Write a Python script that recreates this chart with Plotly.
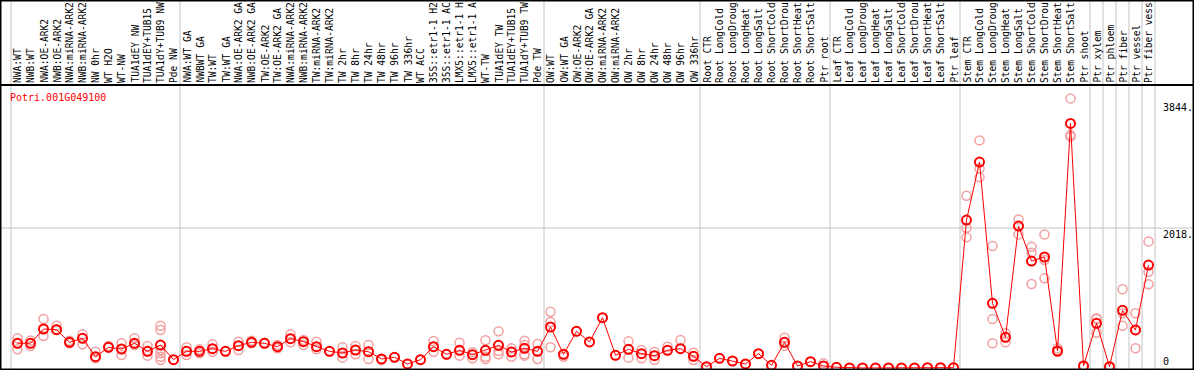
import plotly.graph_objects as go

gene = "Potri.001G049100"

labels = [
    "NWA:WT", "NWB:WT", "NWA:OE-ARK2", "NWB:OE-ARK2", "NWA:miRNA-ARK2", "NWB:miRNA-ARK2",
    "NW 0hr", "WT H2O", "WT-NW", "TUA1dEY NW", "TUA1dEY+TUB15", "TUA1dY+TUB9 NW", "Pde NW",
    "NWA:WT GA", "NWBWT GA", "TW:WT", "TW:WT GA", "NWA:OE-ARK2 GA", "NWB:OE-ARK2 GA",
    "TW:OE-ARK2", "TW:OE-ARK2 GA", "NWA:miRNA-ARK2", "NWB:miRNA-ARK2", "TW:miRNA-ARK2",
    "TW:miRNA-ARK2", "TW 2hr", "TW 8hr", "TW 24hr", "TW 48hr", "TW 96hr", "TW 336hr", "WT ACC",
    "35S::etr1-1 H2", "35S::etr1-1 AC", "LMX5::etr1-1 H", "LMX5::etr1-1 A", "WT-TW",
    "TUA1dEY TW", "TUA1dEY+TUB15", "TUA1dY+TUB9 TW", "Pde TW",
    "OW:WT", "OW:WT GA", "OW:OE-ARK2", "OW:OE-ARK2 GA", "OW:miRNA-ARK2", "OW:miRNA-ARK2",
    "OW 2hr", "OW 8hr", "OW 24hr", "OW 48hr", "OW 96hr", "OW 336hr",
    "Root CTR", "Root LongCold", "Root LongDroug", "Root LongHeat", "Root LongSalt",
    "Root ShortCold", "Root ShortDrou", "Root ShortHeat", "Root ShortSalt", "Ptr root",
    "Leaf CTR", "Leaf LongCold", "Leaf LongDroug", "Leaf LongHeat", "Leaf LongSalt",
    "Leaf ShortCold", "Leaf ShortDrou", "Leaf ShortHeat", "Leaf ShortSalt", "Ptr leaf",
    "Stem CTR", "Stem LongCold", "Stem LongDroug", "Stem LongHeat", "Stem LongSalt",
    "Stem ShortCold", "Stem ShortDrou", "Stem ShortHeat", "Stem ShortSalt", "Ptr shoot",
    "Ptr xylem", "Ptr phloem", "Ptr fiber", "Ptr vessel", "Ptr fiber vess",
]

group_sizes = [13, 28, 12, 10, 10, 10, 1, 1, 1, 1, 1]

means = [
    356, 356, 562, 552, 370, 428, 163, 298, 274, 356, 240, 331, 120,
    240, 240, 279, 240, 322, 370, 356, 307, 423, 380, 307, 240, 216, 259, 235, 130,
    154, 58, 120, 307, 197, 255, 192, 255, 327, 231, 284, 240,
    591, 197, 529, 375, 725, 183, 269, 207, 178, 255, 279, 168,
    19, 139, 101, 58, 207, 38, 370, 29, 91, 29,
    10, 1, 1, 1, 1, 1, 1, 5, 5, 5,
    2133, 2968, 932, 442, 2046, 1542, 1600, 245, 3526, 29,
    644, 19, 831, 548, 1484,
]

replicates = [
    [428, 356, 269], [356, 317, 395], [706, 562, 461], [610, 552, 557], [370, 356, 394],
    [485, 428, 341], [235, 163, 139], [298, 298, 317], [356, 274, 187], [428, 356, 331],
    [317, 240, 178], [610, 548, 331, 259, 211, 163, 115], [120],
    [298, 240, 187], [240, 211, 269], [341, 279, 235], [240], [380, 322, 259], [394, 370, 356],
    [365, 356], [331, 307, 283], [485, 423, 370], [404, 380, 331], [380, 307, 269], [240],
    [298, 216, 149], [317, 259, 197], [331, 235, 130], [130, 115], [154], [58], [120],
    [389, 307, 235], [197], [365, 255, 178], [226, 192, 139], [399, 255, 163, 130],
    [528, 327, 245, 197], [283, 231, 163], [394, 331, 283, 197, 178], [346, 240, 130],
    [812, 663, 298], [197, 163], [529], [375], [725], [183], [384, 269, 149], [259, 207, 139],
    [231, 178, 115], [307, 255], [404, 279], [221, 168, 115],
    [19], [139], [101], [58], [207], [38], [437, 370, 322], [29], [91], [67, 29],
    [10], [1], [1], [1], [1], [1], [1], [5], [5], [5],
    [2483, 2022, 1883], [3281, 2877, 2748], [1758, 706, 356], [500, 442, 370],
    [2142, 2046, 1926], [1748, 1662, 1211], [1926, 1556, 1292], [284, 245, 230],
    [3886, 3357, 3335], [29],
    [716, 706, 509], [19], [1134, 788, 610], [788, 548, 284], [1825, 1388, 1206],
]

tick_values = [3844, 2018, 0]
tick_texts = ["3844.", "2018.", "0"]
grid_value = 2018

# ---------------------------------------------------------------
W, H = 1194, 370
header_px = 85
n = len(labels)
col_w = 13.0
x0_px = 17.5  # pixel center of first column
xr = [-x0_px / col_w, (W - x0_px) / col_w]
px_per_unit = 140.0 / 2018.0
zero_px = 368.0
ydom_top = (H - header_px) / H
yr = [-(H - zero_px) / px_per_unit, (zero_px - header_px) / px_per_unit]

idx = list(range(n))
rx, ry = [], []
for i, reps in enumerate(replicates):
    for v in reps:
        rx.append(i)
        ry.append(v)

fig = go.Figure()
fig.add_trace(go.Scatter(
    x=rx, y=ry, mode="markers",
    marker=dict(symbol="circle-open", size=9, color="#f2a0a0", line=dict(width=1.5, color="#f2a0a0")),
    hoverinfo="skip", showlegend=False,
))
fig.add_trace(go.Scatter(
    x=idx, y=means, mode="lines+markers",
    line=dict(color="#ff0000", width=1),
    marker=dict(symbol="circle-open", size=9, color="#ff0000", line=dict(width=2, color="#ff0000")),
    showlegend=False,
))

shapes = []
b = 0
bounds = [-0.5]
for s in group_sizes:
    b += s
    bounds.append(b - 0.5)
for bx in bounds:
    shapes.append(dict(type="line", xref="x", yref="paper", x0=bx, x1=bx, y0=0, y1=1,
                       line=dict(color="#c4c4c4", width=1), layer="below"))
shapes.append(dict(type="line", xref="paper", yref="y", x0=0, x1=1, y0=grid_value, y1=grid_value,
                   line=dict(color="#c4c4c4", width=1), layer="below"))
shapes.append(dict(type="line", xref="paper", yref="paper", x0=0, x1=1, y0=ydom_top, y1=ydom_top,
                   line=dict(color="black", width=2)))
shapes.append(dict(type="rect", xref="paper", yref="paper", x0=0, x1=1, y0=0, y1=1,
                   line=dict(color="black", width=3)))

font = "DejaVu Sans Mono"
annotations = []
for i, lab in enumerate(labels):
    annotations.append(dict(
        x=i, xref="x", y=(H - header_px + 1) / H, yref="paper",
        text=lab, textangle=-90, showarrow=False, xanchor="center", yanchor="bottom",
        font=dict(family=font, size=9.6, color="black"), borderpad=0,
    ))
annotations.append(dict(
    x=8 / W, xref="paper", y=(H - 97) / H, yref="paper", text=gene, showarrow=False,
    xanchor="left", yanchor="middle", font=dict(family=font, size=10, color="#ff0000"),
))
for v, t in zip(tick_values, tick_texts):
    annotations.append(dict(
        x=1162 / W, xref="paper", y=v, yref="y", text=t, showarrow=False,
        xanchor="left", yanchor="top" if v > 0 else "bottom",
        font=dict(family=font, size=10, color="black"), borderpad=0,
    ))

fig.update_layout(
    width=W, height=H, margin=dict(l=0, r=0, t=0, b=0),
    paper_bgcolor="white", plot_bgcolor="white",
    xaxis=dict(range=xr, visible=False, showgrid=False, zeroline=False),
    yaxis=dict(range=yr, domain=[0, ydom_top], visible=False, showgrid=False, zeroline=False),
    shapes=shapes, annotations=annotations, showlegend=False,
)

fig.write_html("out.html", config={"displayModeBar": False},
               post_script="document.body.style.margin='0';document.body.style.overflow='hidden';")
